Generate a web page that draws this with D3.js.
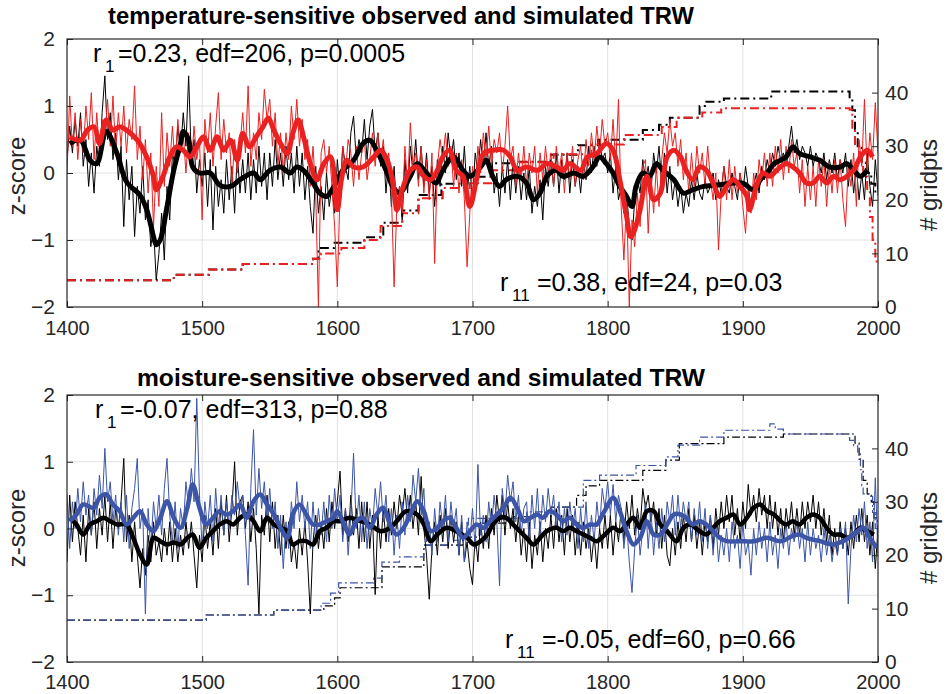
<!DOCTYPE html>
<html><head><meta charset="utf-8">
<script src="https://cdn.jsdelivr.net/npm/d3@7"></script>
<style>
body{margin:0;background:#fff;}
svg{display:block;font-family:"Liberation Sans",Arial,Helvetica,sans-serif;}
</style></head><body>
<svg id="chart" width="951" height="694"></svg>
<script>
// ---------------- DATA ----------------
const xTicks = [1400,1500,1600,1700,1800,1900,2000];
const zTicks = [-2,-1,0,1,2];
const gridTicks = [0,10,20,30,40];
const titles = ["temperature-sensitive observed and simulated TRW","moisture-sensitive observed and simulated TRW"];

// annual values sampled every 2 years, 1400..2000
const tempObs = [
0.2,0.7,0.3,0.8,0.4, 0.9,0.1,0.5,-0.2,0.3, -0.3,0.4,0.1,0.9,1.45, 0.5,0.9,0.2,0.6,-0.1,
0.4,-0.8,0.2,-0.4,0.1, -0.95,-0.2,-0.6,0.1,-0.7, -0.4,-1.1,-0.8,-1.6,-1.2, -0.6,-1.3,-0.2,-0.7,0.3,
0.1,0.7,0.3,0.9,0.4, 1.45,0.2,0.5,-0.3,0.2, -0.2,0.3,-0.5,0.2,-0.85, 0.1,-0.5,-0.1,-0.6,0.2,
-0.4,0.1,-0.6,0.3,-0.3, 0.2,-0.3,0.3,-0.4,0.2, -0.3,0.4,-0.2,0.3,-0.4, 0.3,-0.2,0.5,-0.1,0.3,
-0.2,0.4,-0.1,0.3,-0.3, 0.4,-0.2,0.3,-0.4,0.1, -0.5,-0.9,0.1,-0.6,-0.2, -0.7,0.0,-0.5,-0.2,-0.6,
0.2,-0.3,0.4,0.1,-0.1, 0.6,0.85,0.2,0.5,0.3, 0.8,0.2,0.7,0.95,0.3, 0.6,0.1,0.4,-0.3,0.2,
-0.5,0.1,-0.6,-0.2,-0.7, 0.2,-0.3,0.4,0.0,0.5, -0.1,0.4,-0.2,0.3,-0.3, 0.1,-0.5,0.2,-0.2,0.4,
0.0,0.6,0.2,0.5,-0.1, 0.3,-0.2,0.4,-0.3,0.1, -0.4,0.3,0.0,0.5,0.1, 0.6,0.1,0.4,-0.3,0.0,
-0.5,0.1,-0.3,0.2,-0.4, 0.2,-0.3,0.1,-0.4,0.0, -0.4,0.1,-0.6,-0.2,-0.5, -0.1,-0.7,0.1,-0.2,0.2,
-0.2,0.3,-0.3,0.2,-0.1, 0.3,-0.3,0.2,-0.2,0.1, -0.3,0.2,-0.1,0.4,0.0, 0.4,0.1,0.5,0.2,0.3,
0.0,0.3,-0.3,0.1,-0.4, -0.2,-0.6,-0.3,-0.8,-1.0, -0.4,-0.1,-0.3,0.2,-0.1, 0.1,-0.3,0.3,0.0,0.4,
-0.2,0.3,-0.3,0.1,-0.4, -0.1,-0.5,-0.2,-0.6,-0.3, -0.5,-0.1,-0.4,0.0,-0.3, -0.4,-0.1,-0.3,-0.2,0.0,
-0.4,-0.1,-0.3,0.1,-0.2, -0.3,0.0,-0.2,-0.4,0.0, -0.3,0.1,-0.2,-0.5,-0.2, 0.0,-0.3,0.1,-0.1,0.2,
0.0,0.3,0.1,0.4,0.2, 0.3,0.1,0.4,0.7,0.3, 0.5,0.2,0.4,0.3,0.1, 0.4,0.1,0.3,0.2,0.0,
0.3,-0.1,0.2,0.0,0.3, -0.1,0.2,0.0,0.3,-0.2, 0.2,-0.3,0.1,-0.4,0.0, -0.4,0.3,-0.2,-0.5,0.2,
-0.3];

const tempSim = [
0.0,1.15,0.4,0.9,0.2, 0.8,0.3,1.0,0.5,1.2, 0.2,0.9,0.3,0.8,0.5, 1.1,0.4,1.15,0.3,0.9,
0.4,1.0,0.3,0.8,0.5, 1.3,0.2,0.7,-0.1,0.5, -0.3,0.3,-0.8,0.1,-0.5, 0.9,-0.2,0.6,0.1,0.7,
0.1,0.8,0.3,0.6,0.0, 0.6,0.1,0.7,0.2,0.5, -0.7,0.8,0.3,0.9,0.1, 0.7,1.2,0.2,0.8,0.3,
0.6,-0.2,0.5,0.0,0.4, 0.9,0.3,1.3,0.1,0.6, 0.2,0.9,0.5,1.25,0.8, 1.1,0.4,0.9,0.1,0.6,
0.0,0.6,0.2,1.0,0.5, 1.1,0.4,0.8,0.2,0.5, -0.2,0.4,-0.3,-2.0,0.3, 0.5,0.0,0.4,-0.2,-0.8,
-1.7,-0.3,0.4,0.0,0.5, 0.3,-0.2,0.4,-0.1,0.3, 0.5,-0.1,0.2,0.6,0.1, 0.6,0.2,0.5,0.0,0.3,
-0.3,-1.7,-0.5,-0.2,-0.6, 0.4,-0.2,0.75,0.1,0.3, -0.2,0.4,-0.3,0.2,-0.4, 0.3,-1.35,0.1,0.5,0.2,
0.6,0.1,0.4,-0.2,0.3, -0.3,0.2,-0.4,-1.4,-0.6, 0.1,-0.3,0.4,0.0,0.6, 0.2,0.7,0.1,0.5,0.3,
0.6,0.0,0.4,1.0,0.2, 0.4,-0.2,0.3,-0.1,0.4, -0.2,0.3,0.0,0.4,-0.3, 0.3,-0.1,0.4,0.0,0.3,
-0.2,0.4,0.0,0.3,-0.3, 0.3,-0.1,0.4,-0.2,0.2, 0.4,-0.1,0.5,0.1,0.6, 0.2,0.7,0.3,0.8,0.4,
0.6,0.2,0.8,0.1,1.1, -0.5,-1.3,-0.4,-2.0,-0.7, -1.1,-0.3,-0.8,0.1,0.2, -0.9,0.0,-0.6,0.1,-0.5,
0.2,0.6,0.3,0.8,0.4, 0.6,0.1,0.5,-0.1,0.3, -0.3,0.3,-0.2,0.4,0.0, 0.3,-0.2,0.4,-0.1,-0.4,
0.0,-1.15,-0.3,0.1,-0.4, 0.2,-0.4,0.1,-0.3,0.0, -0.5,-0.9,-0.2,-0.6,0.0, -0.4,0.2,-0.1,0.3,-0.2,
0.3,-0.2,0.4,0.0,0.5, -0.1,0.4,0.0,0.5,0.1, 0.3,-0.3,0.2,-0.5,0.1, -0.4,0.1,-0.5,0.2,-0.2,
0.2,-0.5,0.1,-0.3,0.2, -0.3,0.2,-0.4,-0.8,0.1, -0.2,0.3,-0.5,0.5,0.1, 1.1,0.0,0.6,0.2,1.05,
0.3];

const moistObs = [
-0.5,0.5,-0.2,0.4,0.0, -0.4,0.2,-0.5,0.3,-0.1, 0.4,-0.3,0.3,-0.1,0.5, -0.2,0.4,-0.3,0.3,0.0,
0.4,1.05,-0.2,0.2,-0.5, 0.1,-0.4,-0.89,-0.3,-0.7, -0.1,-0.5,0.1,-0.4,-0.2, -0.5,0.0,-0.4,0.1,-0.5,
0.0,-0.5,-0.1,-0.4,0.1, -0.3,0.1,-0.4,-0.89,-0.1, -0.5,0.2,-0.3,0.1,-0.4, 0.3,-0.3,0.4,-0.1,0.5,
-0.2,0.3,1.0,-0.1,0.4, 0.5,0.0,0.4,-0.2,0.3, -0.3,-1.28,0.2,-0.1,0.5, -0.2,0.4,-0.3,0.2,-0.4,
0.2,-0.3,0.1,-0.5,-0.2, -0.6,0.0,-0.4,0.1,-0.5, -1.28,-0.2,0.2,-0.3,0.1, -0.3,0.3,-0.2,0.4,0.0,
0.4,0.86,-0.1,0.3,-0.2, 0.5,-0.1,0.3,-0.3,0.4, -0.2,0.4,-0.3,0.2,-0.99, 0.2,-0.3,0.3,-0.2,0.3,
-0.1,0.4,0.0,0.5,0.2, 0.6,0.1,0.5,0.0,0.4, -0.1,0.78,0.0,-0.4,-1.06, -0.3,0.1,-0.4,0.2,-0.2,
0.3,-0.3,0.2,-0.2,0.1, -0.4,0.1,-0.5,-0.2,-0.6, -0.84,-0.1,-0.5,0.1,-0.3, 0.2,-0.3,0.3,-0.1,0.5,
0.1,0.5,-0.1,0.4,0.0, 0.3,-0.2,0.2,-0.4,0.0, -0.5,0.1,-0.6,-0.1,-0.4, 0.1,-0.5,0.0,-0.3,0.2,
-0.3,0.3,-0.2,0.2,-0.4, 0.3,-0.2,0.2,-0.4,0.1, -0.4,0.1,-0.3,0.0,-0.5, -0.1,-0.6,0.0,-0.3,0.2,
-0.3,0.2,-0.4,0.1,-0.2, 0.3,-0.2,0.4,0.0,0.5, -0.1,0.3,0.0,0.6,0.3, 0.5,0.1,0.4,-0.1,0.3,
-0.3,0.2,-0.4,-0.56,0.0, -0.4,0.1,-0.3,0.2,-0.2, 0.3,-0.2,0.2,-0.3,0.1, -0.4,0.1,-0.2,0.2,-0.3,
0.3,-0.1,0.4,0.0,0.5, 0.1,0.5,-0.1,0.3,-0.2, 0.4,0.0,0.66,0.2,0.5, 0.1,0.6,0.2,0.5,0.0,
0.5,0.0,0.4,-0.1,0.3, -0.2,0.3,0.0,0.4,-0.1, 0.3,-0.1,0.4,0.0,0.4, 0.1,0.5,0.0,0.4,-0.1,
0.3,-0.2,0.2,-0.4,0.0, -0.4,0.1,-0.3,0.0,-0.4, 0.1,-0.3,0.2,-0.2,0.3, -0.2,0.2,-0.4,0.1,-0.6,
0.0];

const moistSim = [
0.5,-0.3,0.4,0.0,0.6, 0.1,0.7,0.2,0.5,-0.1, 0.6,0.2,0.8,0.3,1.2, 0.4,0.7,0.1,0.5,-0.1,
0.4,-0.2,0.5,-0.3,0.3, 0.6,1.05,0.0,0.3,-1.28, 0.3,-0.3,0.4,0.0,0.5, -0.1,0.6,1.05,0.2,-0.2,
0.4,-0.3,0.3,0.0,0.7, 0.3,0.9,0.4,1.95,0.5, -0.3,0.4,0.0,0.5,-0.2, 0.6,0.0,0.5,-0.1,0.4,
0.0,0.5,0.2,0.7,0.3, 0.5,-0.1,-0.85,0.6,1.48, 0.2,0.9,0.3,0.7,0.1, 0.6,0.0,0.4,-0.3,0.2,
-0.6,0.1,-0.3,0.4,0.0, 0.7,0.1,0.5,0.0,0.4, -0.3,0.4,-0.2,0.3,-0.1, 0.4,-0.2,0.5,0.0,0.6,
0.1,0.5,-0.2,0.3,-0.4, 0.2,1.13,0.0,0.5,-0.2, 0.4,-0.3,0.3,0.0,0.6, 0.2,0.7,0.1,0.5,-0.2,
0.3,-0.4,0.2,-0.3,0.4, -0.1,0.5,0.1,0.8,0.4, 0.9,0.2,0.6,-0.2,0.1, -0.4,0.3,-0.2,0.4,0.0,
0.5,-0.2,0.4,0.0,0.3, -0.4,0.2,-0.5,0.1,-0.2, 0.3,-0.3,0.96,-0.1,0.2, -0.2,0.4,0.0,0.5,0.1,
-0.86,0.6,0.2,0.8,0.4, 0.7,0.1,0.5,-0.1,0.3, 0.4,-0.2,0.5,0.0,0.6, -0.1,0.5,0.1,0.6,0.2,
0.5,0.0,0.4,-0.2,0.3, -0.1,0.4,0.0,0.3,-0.3, 0.3,-0.2,0.4,-0.3,0.2, -0.2,0.4,0.0,0.6,0.3,
0.7,0.2,0.66,0.1,0.5, 0.3,-0.3,0.1,-0.5,-0.96, -0.3,0.2,-0.4,0.0,0.4, -0.3,0.3,-0.4,0.1,-0.3,
0.3,-0.2,0.4,0.1,0.5, -0.1,0.5,0.0,0.4,0.1, 0.4,-0.2,0.3,-0.1,0.4, -0.2,0.3,-0.3,0.2,-0.4,
0.1,-0.5,-0.1,-0.4,0.0, -0.5,0.1,-0.3,-0.1,-0.6, 0.1,-0.4,-0.2,-0.7,0.0, -0.4,0.1,-0.3,0.0,-0.5,
0.1,-0.4,-0.1,-0.6,0.0, -0.3,0.1,-0.4,0.0,-0.2, 0.1,-0.3,0.0,-0.5,0.1, -0.4,0.0,-0.3,-0.1,-0.5,
0.0,-0.4,-0.1,-0.5,-0.2, -0.4,0.0,-0.3,0.1,-1.13, -0.3,0.2,-0.2,0.3,-0.1, 0.4,-0.3,0.1,-0.5,0.76,
-0.4];

// smoothed series: [year, z]
const tempObsSmooth = [[1402,0.44],[1410,0.49],[1417,0.19],[1422,0.14],[1429,0.62],[1437,0.29],[1444,-0.13],[1454,-0.33],[1459,-0.55],[1464,-0.95],[1466,-1.07],[1469,-1.0],[1474,-0.5],[1479,0.04],[1484,0.44],[1486,0.62],[1490,0.49],[1493,0.09],[1498,0],[1506,0],[1513,-0.18],[1521,-0.2],[1528,-0.1],[1538,0],[1543,-0.1],[1550,0.04],[1558,0.09],[1565,0],[1570,0.09],[1575,0.04],[1582,-0.15],[1587,-0.3],[1592,-0.35],[1597,-0.22],[1604,0.04],[1612,0.19],[1619,0.44],[1624,0.49],[1629,0.34],[1636,0.04],[1641,-0.2],[1646,-0.3],[1654,-0.05],[1659,0.14],[1666,0],[1673,-0.15],[1678,0.04],[1686,0.24],[1693,0.04],[1698,-0.05],[1706,0.09],[1710,0.19],[1715,-0.05],[1720,-0.2],[1725,-0.1],[1733,-0.05],[1740,-0.15],[1745,-0.4],[1750,-0.3],[1755,-0.05],[1762,0.04],[1767,-0.05],[1775,0],[1782,-0.05],[1789,0.09],[1794,0.24],[1799,0.14],[1804,0],[1809,-0.2],[1814,-0.35],[1818,-0.5],[1821,-0.2],[1826,0],[1831,-0.05],[1836,0.14],[1841,0.04],[1849,-0.1],[1856,-0.3],[1863,-0.25],[1871,-0.2],[1881,-0.18],[1893,-0.15],[1900,-0.15],[1908,-0.25],[1913,-0.1],[1918,0],[1923,0.14],[1928,0.19],[1932,0.24],[1937,0.39],[1942,0.29],[1950,0.24],[1957,0.19],[1964,0.09],[1972,0.09],[1977,0.14],[1982,0.04],[1987,-0.05],[1992,0.04]];

const tempSimSmooth = [[1402,0.54],[1410,0.49],[1415,0.64],[1420,0.69],[1424,0.44],[1429,0.79],[1434,0.64],[1439,0.69],[1444,0.64],[1452,0.49],[1459,0.24],[1464,-0.05],[1466,-0.25],[1471,-0.05],[1476,0.24],[1481,0.39],[1486,0.34],[1491,0.24],[1496,0.39],[1501,0.54],[1506,0.34],[1511,0.54],[1516,0.34],[1521,0.49],[1526,0.19],[1530,0.59],[1535,0.39],[1540,0.54],[1545,0.69],[1549,0.82],[1553,0.64],[1558,0.44],[1563,0.29],[1567,0.59],[1571,0.79],[1575,0.54],[1580,0.14],[1585,-0.1],[1590,0.14],[1595,0.24],[1600,-0.55],[1603,-0.1],[1607,0.19],[1612,0.09],[1619,0.09],[1627,0.24],[1632,0.34],[1637,0.19],[1642,-0.25],[1644,-0.55],[1648,-0.25],[1654,0.04],[1659,0.09],[1664,-0.05],[1669,-0.1],[1674,0.04],[1678,0.24],[1683,0.34],[1688,0.04],[1693,-0.05],[1698,-0.5],[1703,-0.1],[1708,0.29],[1715,0.34],[1723,0.34],[1728,0.24],[1733,0.04],[1740,0.09],[1748,0.04],[1755,0.14],[1762,0.09],[1767,0.04],[1772,0.14],[1780,0.04],[1785,0.24],[1792,0.29],[1799,0.44],[1804,0.34],[1809,-0.1],[1814,-0.65],[1817,-0.95],[1819,-0.9],[1824,-0.55],[1829,-0.05],[1834,-0.4],[1839,-0.3],[1844,0.24],[1849,0.34],[1854,0.24],[1858,0.04],[1863,-0.1],[1868,0.09],[1873,0.04],[1878,-0.15],[1883,-0.35],[1888,-0.2],[1893,-0.1],[1898,-0.2],[1903,-0.35],[1905,-0.55],[1910,-0.2],[1915,0],[1920,-0.05],[1925,0.04],[1932,0.14],[1937,0.09],[1942,0],[1947,-0.15],[1952,-0.15],[1957,-0.05],[1962,-0.15],[1967,-0.05],[1972,-0.1],[1977,-0.05],[1982,0.04],[1987,0.24],[1992,0.34],[1996,0.24]];

const moistObsSmooth = [[1402,0.16],[1407,0.06],[1412,-0.09],[1417,0.06],[1422,0.11],[1427,0.16],[1432,0.11],[1437,0.06],[1444,0.06],[1449,-0.14],[1454,-0.39],[1459,-0.54],[1464,-0.14],[1469,-0.19],[1474,-0.24],[1479,-0.21],[1484,-0.24],[1489,-0.14],[1493,-0.09],[1498,-0.29],[1503,-0.14],[1508,-0.04],[1513,0.06],[1518,0.11],[1523,0.06],[1528,0.16],[1533,0.21],[1538,0.11],[1543,-0.04],[1548,0.16],[1553,0.06],[1558,0.01],[1563,-0.04],[1567,-0.24],[1572,-0.19],[1577,-0.19],[1582,-0.24],[1587,-0.04],[1592,0.01],[1597,0.11],[1602,0.11],[1609,0.16],[1617,0.11],[1624,0.06],[1632,-0.04],[1639,0.01],[1644,0.11],[1651,0.26],[1659,0.21],[1664,0.06],[1669,-0.19],[1674,-0.09],[1681,0.01],[1688,-0.04],[1696,-0.14],[1701,-0.24],[1706,-0.19],[1711,-0.09],[1715,0.06],[1720,0.16],[1725,0.16],[1730,0.06],[1735,-0.04],[1740,-0.14],[1745,-0.24],[1750,-0.14],[1755,-0.04],[1762,0.01],[1767,-0.04],[1772,0.01],[1777,-0.04],[1782,-0.09],[1787,-0.14],[1792,-0.19],[1798,-0.09],[1804,0.01],[1809,-0.04],[1814,0.06],[1819,0.16],[1824,0.01],[1829,0.26],[1834,0.26],[1839,0.06],[1844,-0.04],[1851,-0.19],[1856,0.01],[1861,0.06],[1868,-0.04],[1873,-0.09],[1878,0.01],[1883,0.11],[1888,0.16],[1893,0.21],[1898,0.06],[1903,0.16],[1908,0.31],[1913,0.36],[1918,0.26],[1923,0.21],[1928,0.11],[1932,0.06],[1937,0.11],[1942,0.06],[1947,0.16],[1952,0.21],[1957,0.16],[1962,0.01],[1967,-0.09],[1972,-0.09],[1977,-0.14],[1982,-0.09],[1987,0.01],[1992,-0.04],[1997,-0.09]];

const moistSimSmooth = [[1402,0.11],[1407,0.21],[1412,0.36],[1420,0.31],[1424,0.46],[1429,0.51],[1434,0.36],[1439,0.26],[1444,0.06],[1449,0.16],[1454,0.26],[1459,0.06],[1464,-0.04],[1469,0.16],[1474,0.41],[1479,0.16],[1484,0.01],[1489,0.31],[1493,0.66],[1498,0.31],[1503,0.06],[1508,0.16],[1513,0.26],[1518,0.21],[1523,0.26],[1528,0.36],[1533,0.16],[1538,0.41],[1543,0.51],[1548,0.36],[1553,0.21],[1558,0.01],[1563,-0.14],[1567,0.21],[1572,0.36],[1577,0.21],[1582,0.06],[1587,0.06],[1592,0.11],[1597,0.16],[1600,0.26],[1605,0.06],[1609,-0.09],[1614,0.11],[1619,0.16],[1624,0.01],[1629,0.21],[1634,0.31],[1639,0.06],[1644,-0.09],[1649,0.01],[1654,0.21],[1659,0.41],[1664,0.26],[1669,-0.04],[1674,0.01],[1678,0.11],[1683,0.16],[1688,0.01],[1693,-0.14],[1698,-0.04],[1703,0.06],[1708,0.01],[1713,0.11],[1718,0.21],[1723,0.31],[1728,0.46],[1733,0.31],[1738,0.11],[1743,0.16],[1748,0.21],[1752,0.16],[1757,0.26],[1762,0.21],[1767,0.11],[1772,0.16],[1777,0.06],[1782,0.01],[1787,0.06],[1792,0.06],[1795,0.16],[1799,0.31],[1804,0.46],[1809,0.26],[1814,-0.04],[1819,-0.24],[1824,-0.14],[1829,0.11],[1834,-0.09],[1839,-0.09],[1844,0.06],[1849,0.21],[1854,0.21],[1858,0.16],[1863,0.06],[1868,0.11],[1873,0.06],[1878,-0.04],[1883,-0.14],[1888,-0.19],[1898,-0.19],[1908,-0.19],[1918,-0.14],[1928,-0.19],[1937,-0.11],[1942,-0.09],[1947,-0.14],[1957,-0.19],[1967,-0.24],[1974,-0.19],[1982,-0.09],[1989,0.01],[1994,-0.14],[1999,-0.29]];

// number of grid points: [year, count] (stepwise)
const tempObsGrid = [[1400,5],[1479,6],[1505,7],[1530,8],[1582,9],[1586,11],[1598,12],[1620,13],[1634,15.7],[1648,18],[1660,20.9],[1677,23],[1696,24.3],[1714,26.8],[1730,27.1],[1758,28.4],[1778,30.2],[1793,31.2],[1826,33],[1838,34],[1846,35.3],[1868,37.5],[1873,38.3],[1886,38.9],[1921,40.2],[1979,38.9],[1981,36.7],[1983,33],[1985,30],[1988,27],[1991,25],[1995,23],[1998,21],[2000,21]];
const tempSimGrid = [[1400,5],[1479,6],[1505,7],[1530,8],[1582,9],[1588,10],[1603,11],[1620,12.5],[1632,15.1],[1648,17.5],[1660,20.3],[1678,22.2],[1698,23.1],[1714,25.5],[1735,27],[1760,28.5],[1788,30.3],[1812,32.1],[1840,33.6],[1851,35.3],[1870,36.3],[1884,37.1],[1979,36.8],[1981,33],[1983,30],[1986,27],[1989,24.3],[1992,21.8],[1994,16.8],[1996,12.5],[1998,9.4],[1999,8.2],[2000,8]];
const moistObsGrid = [[1400,7.85],[1503,8.8],[1553,9.7],[1590,10.5],[1598,12],[1602,13.9],[1633,17.8],[1664,21.9],[1693,23.4],[1705,26],[1730,27.2],[1758,29],[1777,31.2],[1784,33],[1794,34],[1826,35.9],[1843,37.8],[1853,40.9],[1886,42.1],[1930,42.7],[1983,41],[1986,38],[1989,34],[1992,31.5],[1995,30],[1997,27],[2000,24]];
const moistSimGrid = [[1400,7.85],[1503,8.8],[1553,9.7],[1588,11],[1595,12.9],[1601,14.8],[1627,15.7],[1633,18.7],[1646,19.7],[1664,21.9],[1686,22.8],[1697,26.9],[1740,28.1],[1762,29],[1782,34],[1794,35],[1821,36.8],[1843,38.4],[1852,40.6],[1868,42.1],[1886,43.4],[1920,44.6],[1924,43.6],[1930,42.7],[1979,41.5],[1982,40.5],[1985,39],[1987,36],[1988,33],[1989,31.5],[1994,31],[1996,28],[1998,25],[2000,22]];

const stats = [
  {r:"1", text:"=0.23, edf=206, p=0.0005"},
  {r:"11", text:"=0.38, edf=24, p=0.03"},
  {r:"1", text:"=-0.07, edf=313, p=0.88"},
  {r:"11", text:"=-0.05, edf=60, p=0.66"}
];

// ---------------- DRAWING ----------------
const years2 = d3.range(1400, 2001, 2);
const svg = d3.select("#chart");
const TXT = "#262626";
const x = d3.scaleLinear().domain([1400,2000]).range([67,878]);

function panel(p){
  const yL = d3.scaleLinear().domain([-2,2]).range([p.bottom,p.top]);
  const yR = d3.scaleLinear().domain([0,50]).range([p.bottom,p.top]);
  const g = svg.append("g");

  // grid
  g.append("g").selectAll("line").data(xTicks.slice(1,-1)).join("line")
    .attr("x1",d=>x(d)).attr("x2",d=>x(d)).attr("y1",p.top).attr("y2",p.bottom)
    .attr("stroke","#e2e2e2").attr("stroke-width",1);
  g.append("g").selectAll("line").data(zTicks.slice(1,-1)).join("line")
    .attr("y1",d=>yL(d)).attr("y2",d=>yL(d)).attr("x1",67).attr("x2",878)
    .attr("stroke","#e2e2e2").attr("stroke-width",1);

  const cid = "clip"+p.id;
  svg.append("clipPath").attr("id",cid).append("rect")
    .attr("x",67).attr("y",p.top).attr("width",811).attr("height",p.bottom-p.top);
  const plot = g.append("g").attr("clip-path",`url(#${cid})`);

  const gl = d3.line().x(d=>x(d[0])).y(d=>yR(d[1])).curve(d3.curveStepAfter);
  plot.append("path").datum(p.obsGrid).attr("d",gl).attr("fill","none")
    .attr("stroke","#000").attr("stroke-width",p.gw).attr("stroke-dasharray",p.dash);
  plot.append("path").datum(p.simGrid).attr("d",gl).attr("fill","none")
    .attr("stroke",p.color).attr("stroke-width",p.gw).attr("stroke-dasharray",p.dash);

  const tl = d3.line().x((d,i)=>x(years2[i])).y(d=>yL(d));
  plot.append("path").datum(p.obs).attr("d",tl).attr("fill","none")
    .attr("stroke","#000").attr("stroke-width",1).attr("stroke-linejoin","round");
  plot.append("path").datum(p.sim).attr("d",tl).attr("fill","none")
    .attr("stroke",p.color).attr("stroke-width",1).attr("stroke-linejoin","round");

  const sl = d3.line().x(d=>x(d[0])).y(d=>yL(d[1])).curve(d3.curveCatmullRom);
  plot.append("path").datum(p.obsS).attr("d",sl).attr("fill","none")
    .attr("stroke","#000").attr("stroke-width",p.tw).attr("stroke-linejoin","round");
  plot.append("path").datum(p.simS).attr("d",sl).attr("fill","none")
    .attr("stroke",p.color).attr("stroke-width",p.tw).attr("stroke-linejoin","round");

  // axes
  const styleAxis = (a, fs) => {
    a.select(".domain").remove();
    a.selectAll(".tick line").attr("stroke",TXT);
    a.selectAll(".tick text").attr("fill",TXT).style("font-size",(fs||21)+"px")
      .style("font-family","'Liberation Sans',Arial,sans-serif");
  };
  g.append("g").attr("transform",`translate(0,${p.bottom})`)
    .call(d3.axisBottom(x).tickValues(xTicks).tickFormat(d3.format("d")).tickSize(-6).tickPadding(p.xpad))
    .call(a=>styleAxis(a,20));
  g.append("g").attr("transform",`translate(0,${p.top})`)
    .call(d3.axisTop(x).tickValues(xTicks).tickFormat("").tickSize(-6))
    .call(a=>styleAxis(a));
  g.append("g").attr("transform",`translate(67,0)`)
    .call(d3.axisLeft(yL).tickValues(zTicks).tickFormat(d3.format("d")).tickSize(-6).tickPadding(12))
    .call(a=>styleAxis(a));
  g.append("g").attr("transform",`translate(878,0)`)
    .call(d3.axisRight(yR).tickValues(gridTicks).tickSize(-6).tickPadding(7))
    .call(a=>styleAxis(a));

  g.append("rect").attr("x",67).attr("y",p.top).attr("width",811).attr("height",p.bottom-p.top)
    .attr("fill","none").attr("stroke",TXT).attr("stroke-width",1.2);

  // labels
  g.append("text").attr("transform",`translate(25,${p.zlab}) rotate(-90)`)
    .attr("text-anchor","middle").attr("fill",TXT).style("font-size","24px").text("z-score");
  g.append("text").attr("transform",`translate(937,${p.glab}) rotate(-90)`)
    .attr("text-anchor","middle").attr("fill",TXT).style("font-size","24px").text("# gridpts");

  g.append("text").attr("x",p.tx).attr("y",p.ty).attr("text-anchor","middle")
    .attr("textLength",p.tw2).attr("lengthAdjust","spacingAndGlyphs")
    .style("font-size","24px").style("font-weight","bold").attr("fill","#000").text(p.title);

  p.ann.forEach(a=>{
    const s = stats[a.i];
    g.append("text").attr("x",a.x).attr("y",a.y).style("font-size","25px").attr("fill","#000").text("r");
    g.append("text").attr("x",a.x+12).attr("y",a.y+10).style("font-size","17px").attr("fill","#000").text(s.r);
    g.append("text").attr("x",a.x+(s.r.length>1?37:25)).attr("y",a.y).style("font-size","25px").attr("fill","#000").text(s.text);
  });
}

panel({id:"a", top:39, bottom:307, color:"#ea2121", gw:2, dash:"9,4,2,4", tw:5, xpad:14,
  obs:tempObs, sim:tempSim, obsS:tempObsSmooth, simS:tempSimSmooth,
  obsGrid:tempObsGrid, simGrid:tempSimGrid, zlab:176, glab:185,
  title:titles[0], tx:401, ty:24, tw2:586,
  ann:[{i:0,x:93,y:62},{i:1,x:500,y:291}]});

panel({id:"b", top:395, bottom:662, color:"#3c55a6", gw:1.2, dash:"8,3,2,3", tw:4.5, xpad:13,
  obs:moistObs, sim:moistSim, obsS:moistObsSmooth, simS:moistSimSmooth,
  obsGrid:moistObsGrid, simGrid:moistSimGrid, zlab:528, glab:538,
  title:titles[1], tx:421, ty:386, tw2:568,
  ann:[{i:2,x:95,y:418},{i:3,x:505,y:648}]});
</script>
</body></html>
